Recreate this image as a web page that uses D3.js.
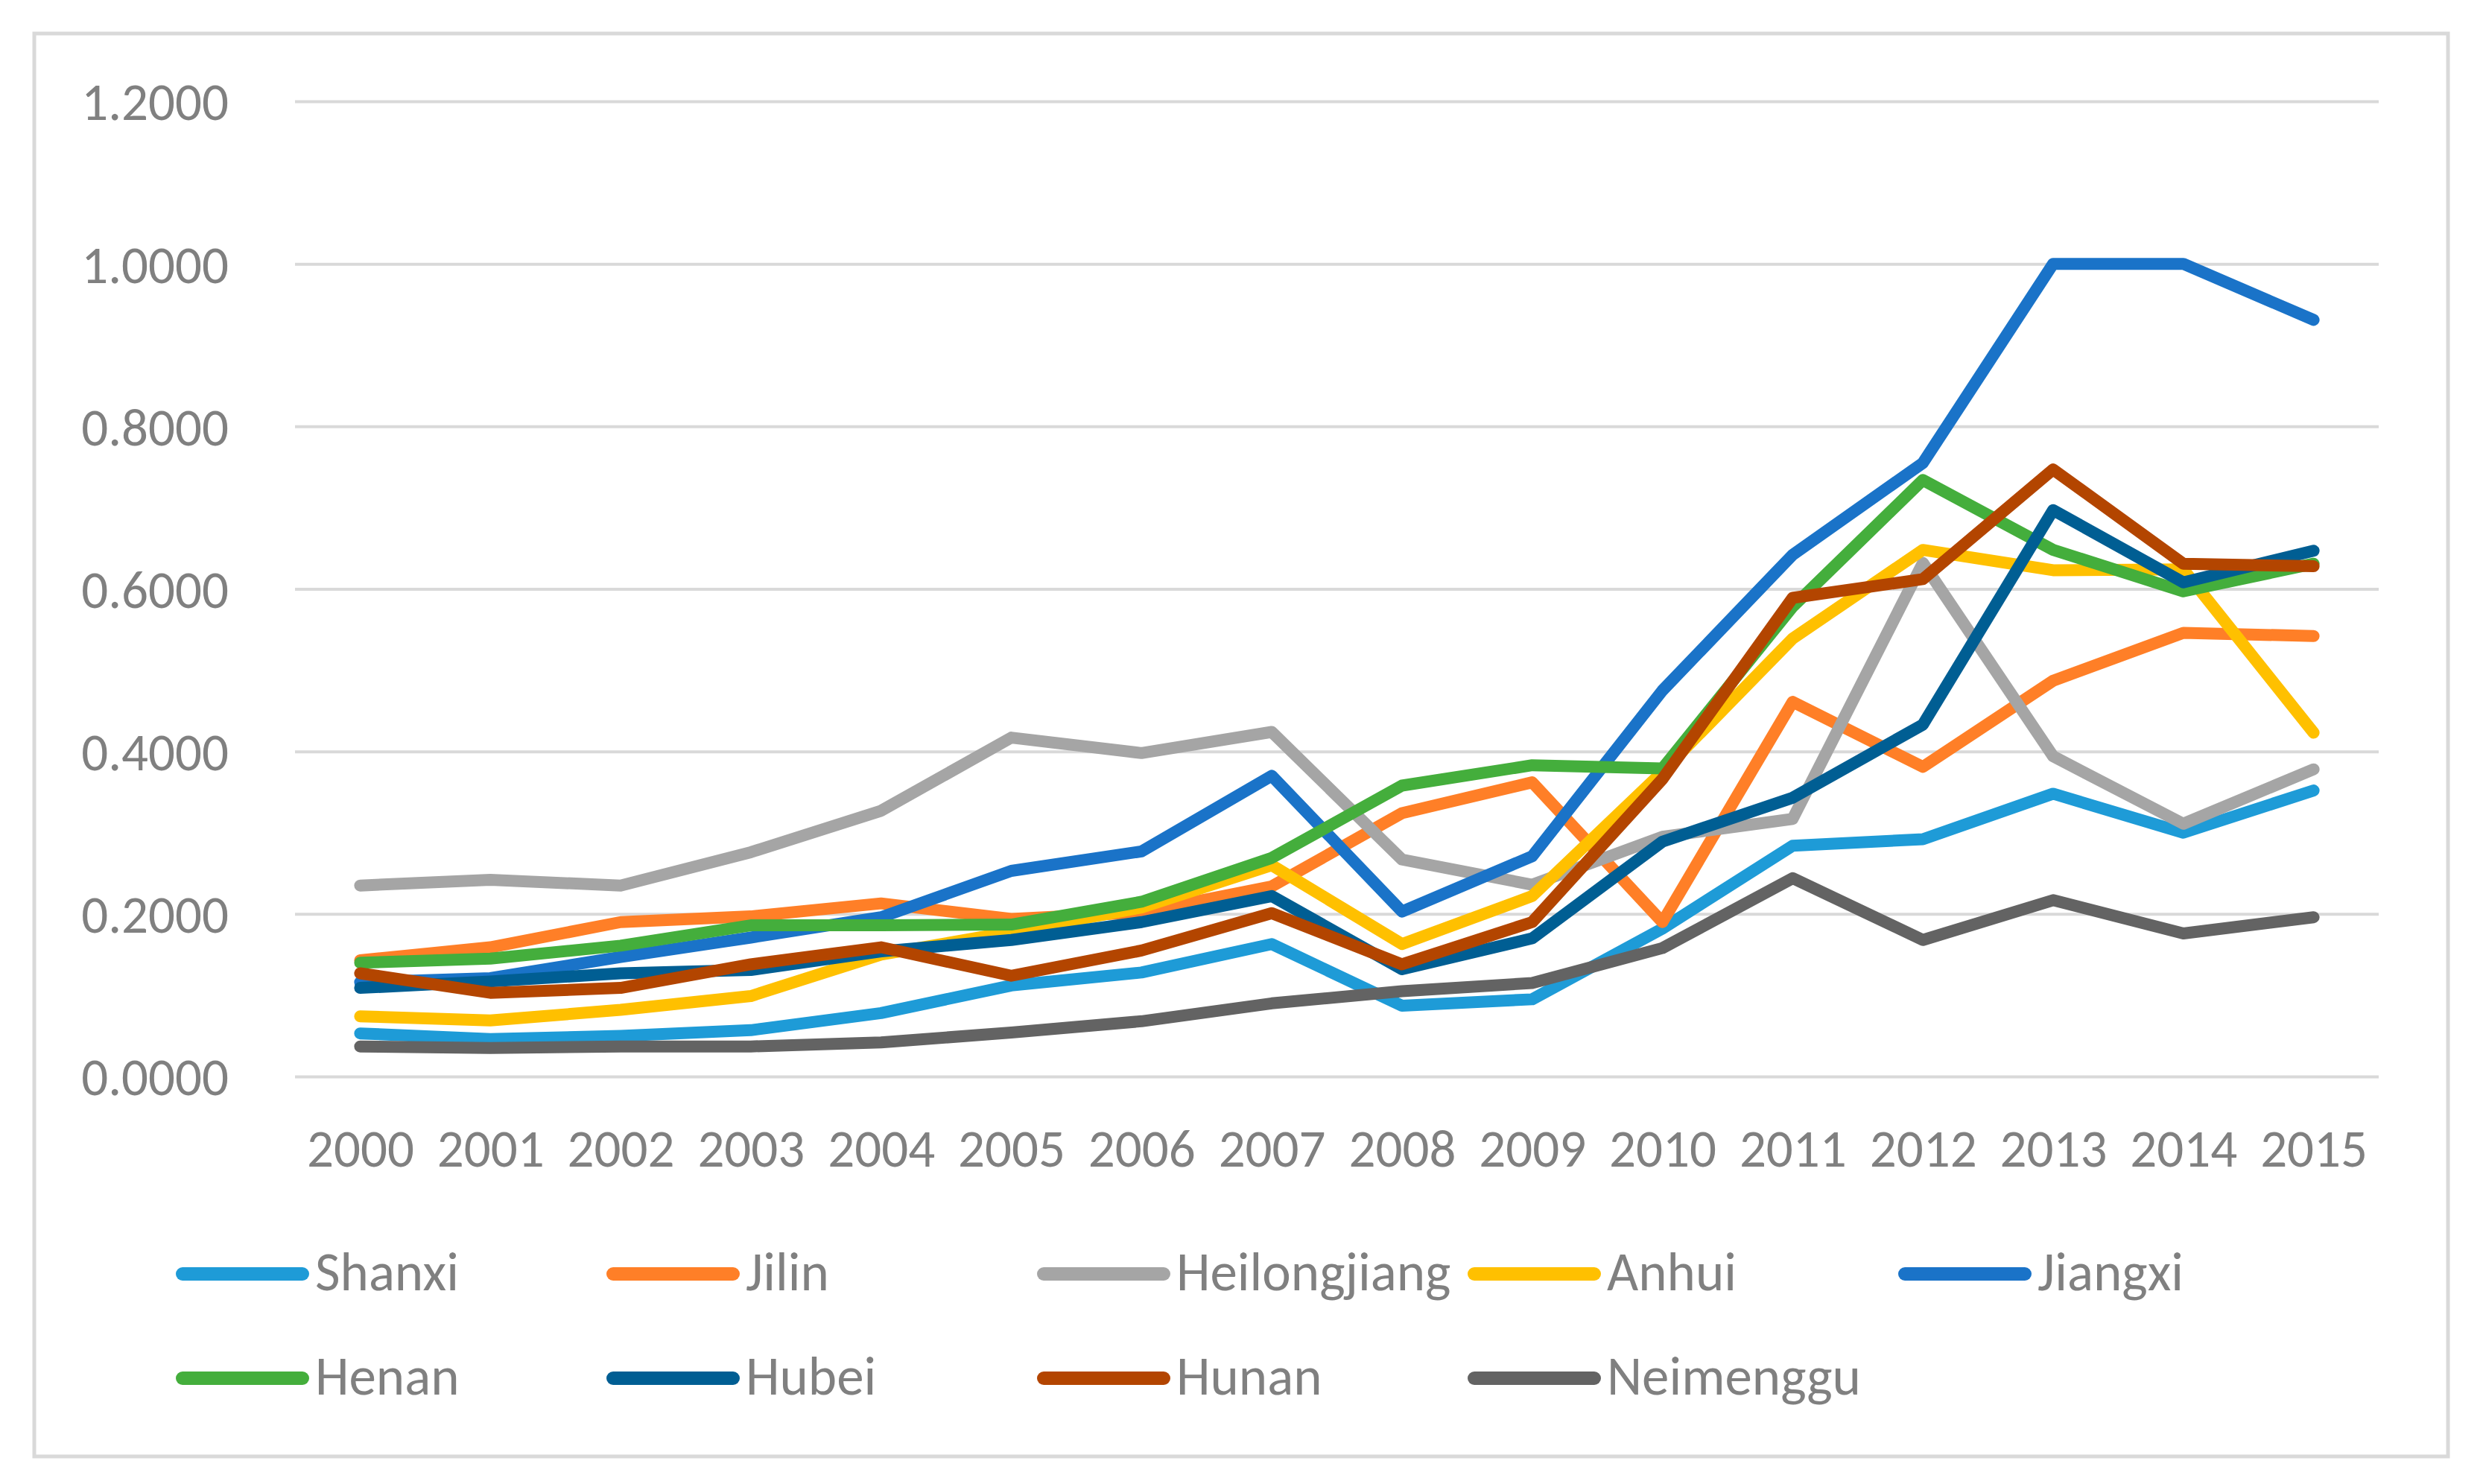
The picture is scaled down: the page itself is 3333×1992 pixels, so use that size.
<!DOCTYPE html>
<html>
<head>
<meta charset="utf-8">
<script src="https://cdn.jsdelivr.net/npm/d3@7"></script>
<style>
  html, body { margin: 0; padding: 0; background: #fff; }
  svg { display: block; }
  text { font-family: Carlito, Calibri, Lato, "Open Sans", sans-serif; fill: #808080; }
</style>
</head>
<body>
<svg id="chart" width="3333" height="1992"></svg>
<script>
const years = ["2000","2001","2002","2003","2004","2005","2006","2007","2008","2009","2010","2011","2012","2013","2014","2015"];
const yTicks = [0, 0.2, 0.4, 0.6, 0.8, 1.0, 1.2];

const seriesNames = ["Shanxi","Jilin","Heilongjiang","Anhui","Jiangxi","Henan","Hubei","Hunan","Neimenggu"];
const seriesColors = ["#1e9bd7","#ff7f27","#a5a5a5","#ffc000","#1a73c8","#44ae3c","#005e93","#b34500","#636363"];

const shanxi       = [0.053,0.046,0.050,0.057,0.078,0.112,0.128,0.163,0.087,0.095,0.182,0.284,0.292,0.348,0.300,0.352];
const jilin        = [0.143,0.159,0.190,0.197,0.213,0.194,0.202,0.234,0.324,0.362,0.190,0.461,0.381,0.487,0.546,0.542];
const heilongjiang = [0.235,0.242,0.235,0.276,0.327,0.417,0.398,0.424,0.267,0.236,0.295,0.317,0.632,0.394,0.311,0.378];
const anhui        = [0.074,0.069,0.082,0.099,0.150,0.178,0.208,0.260,0.163,0.222,0.375,0.539,0.648,0.623,0.624,0.423];
const jiangxi      = [0.116,0.121,0.147,0.171,0.196,0.253,0.277,0.370,0.203,0.271,0.475,0.642,0.755,1.000,1.000,0.931];
const henan        = [0.140,0.145,0.161,0.186,0.186,0.187,0.215,0.269,0.358,0.383,0.379,0.578,0.734,0.648,0.597,0.631];
const hubei        = [0.109,0.117,0.127,0.131,0.154,0.168,0.190,0.222,0.132,0.170,0.289,0.343,0.433,0.697,0.608,0.647];
const hunan        = [0.127,0.103,0.109,0.138,0.159,0.124,0.155,0.201,0.138,0.190,0.366,0.589,0.612,0.747,0.631,0.628];
const neimenggu    = [0.037,0.035,0.037,0.037,0.042,0.054,0.068,0.090,0.105,0.115,0.158,0.244,0.168,0.217,0.176,0.196];

const seriesValues = [shanxi, jilin, heilongjiang, anhui, jiangxi, henan, hubei, hunan, neimenggu];

const svg = d3.select("#chart");

// outer chart border
svg.append("rect")
  .attr("x", 46).attr("y", 45).attr("width", 3240).attr("height", 1910)
  .attr("fill", "#fff").attr("stroke", "#d9d9d9").attr("stroke-width", 5);

const plotLeft = 396, plotRight = 3193, plotTop = 136, plotBottom = 1445;

const x = d3.scalePoint().domain(years).range([plotLeft, plotRight]).padding(0.5);
const y = d3.scaleLinear().domain([0, 1.2]).range([plotBottom, plotTop]);

// gridlines + y labels
const yAxis = d3.axisLeft(y)
  .tickValues(yTicks)
  .tickFormat(d3.format(".4f"))
  .tickSize(-(plotRight - plotLeft))
  .tickPadding(89);
const gy = svg.append("g").attr("transform", `translate(${plotLeft},0)`).call(yAxis);
gy.select(".domain").remove();
gy.selectAll(".tick line").attr("stroke", "#d9d9d9").attr("stroke-width", 4);
gy.selectAll(".tick text")
  .attr("font-size", 71)
  .attr("fill", "#808080")
  .attr("dy", "0.35em");

// x labels
const xAxis = d3.axisBottom(x).tickSize(0).tickPadding(0);
const gx = svg.append("g").attr("transform", `translate(0,${plotBottom})`).call(xAxis);
gx.select(".domain").remove();
gx.selectAll(".tick text")
  .attr("font-size", 71)
  .attr("fill", "#808080")
  .attr("dy", 0)
  .attr("y", 121);
gy.attr("font-family", null).attr("font-size", null);
gx.attr("font-family", null).attr("font-size", null);

// lines
const line = d3.line()
  .x((d, i) => x(years[i]))
  .y(d => y(d));

svg.append("g").selectAll("path")
  .data(seriesValues)
  .join("path")
  .attr("d", d => line(d))
  .attr("fill", "none")
  .attr("stroke", (d, i) => seriesColors[i])
  .attr("stroke-width", 16)
  .attr("stroke-linecap", "round")
  .attr("stroke-linejoin", "round");

// legend
const legCol = d3.scaleLinear().domain([0, 1]).range([236, 814]);
const legRow = d3.scaleLinear().domain([0, 1]).range([1710, 1850]);
const leg = svg.append("g").selectAll("g")
  .data(seriesNames)
  .join("g")
  .attr("transform", (d, i) => `translate(${legCol(i % 5)},${legRow(Math.floor(i / 5))})`);
leg.append("line")
  .attr("x1", 9).attr("x2", 170).attr("y1", 0).attr("y2", 0)
  .attr("stroke", (d, i) => seriesColors[i])
  .attr("stroke-width", 18)
  .attr("stroke-linecap", "round");
leg.append("text")
  .attr("x", 187).attr("y", 22)
  .attr("font-size", 73)
  .text(d => d);
</script>
</body>
</html>
